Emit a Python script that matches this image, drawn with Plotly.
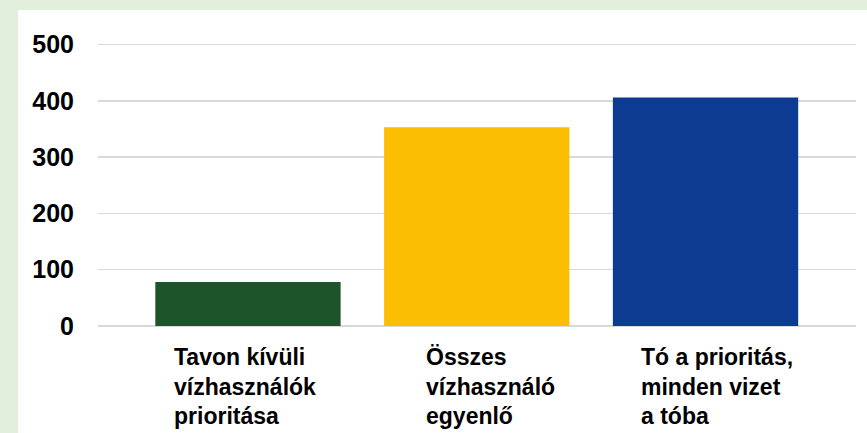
import plotly.graph_objects as go

categories = [
    ["Tavon kívüli", "vízhasználók", "prioritása"],
    ["Összes", "vízhasználó", "egyenlő"],
    ["Tó a prioritás,", "minden vizet", "a tóba"],
]
values = [78, 353, 406]
colors = ["#1D5429", "#FBBE02", "#0C3B91"]
y_ticks = [0, 100, 200, 300, 400, 500]
label_offsets = [-0.33, -0.23, -0.29]

FONT = "Liberation Sans, Arial, sans-serif"

x = list(range(len(values)))

fig = go.Figure(go.Bar(
    x=x, y=values, width=0.81,
    marker=dict(color=colors, line=dict(width=0)),
    hoverinfo="skip",
))

annotations = []
for i, lines in enumerate(categories):
    for j, line in enumerate(lines):
        annotations.append(dict(
            x=i + label_offsets[i], y=0, xref="x", yref="y",
            text="<b>%s</b>" % line, showarrow=False,
            xanchor="left", yanchor="middle", align="left",
            yshift=-31 - 29.7 * j,
            font=dict(family=FONT, size=23, color="#000000"),
        ))

W, H = 867, 433
ml, mr, mt, mb = 98, 11, 43, 107
pw, ph = W - ml - mr, H - mt - mb

fig.update_layout(
    width=W, height=H,
    margin=dict(l=ml, r=mr, t=mt, b=mb, pad=0),
    paper_bgcolor="#E2EFDA",
    plot_bgcolor="rgba(0,0,0,0)",
    showlegend=False,
    annotations=annotations,
    shapes=[dict(
        type="rect", xref="paper", yref="paper", layer="below",
        x0=(18 - ml) / pw, x1=(W - ml) / pw + 0.01,
        y0=-mb / ph - 0.01, y1=(H - mb - 10) / ph,
        fillcolor="#FFFFFF", line=dict(width=0),
    )],
    xaxis=dict(
        range=[-0.6555, 2.6577], showticklabels=False, showgrid=False,
        zeroline=False, showline=False, ticks="",
    ),
    yaxis=dict(
        range=[0, 502.6], tickvals=y_ticks, ticktext=[str(v) for v in y_ticks],
        showgrid=True, gridcolor="#D9D9D9", gridwidth=1.5,
        zeroline=True, zerolinecolor="#D9D9D9", zerolinewidth=1.5,
        showline=False, ticks="", ticklabelstandoff=23,
        tickfont=dict(family=FONT, size=25, color="#000000", weight="bold"),
    ),
)

fig.write_html(
    "out.html",
    config={"displayModeBar": False, "staticPlot": True},
    post_script="document.body.style.margin='0';document.body.style.padding='0';",
)
